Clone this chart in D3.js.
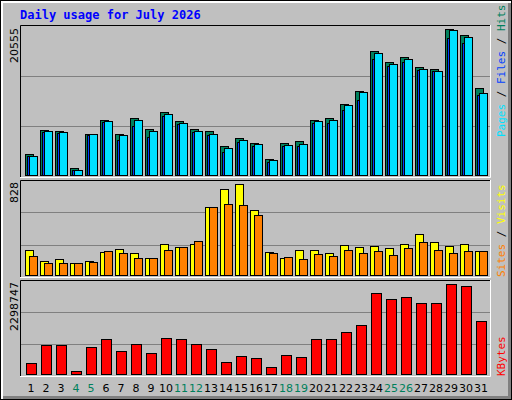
<!DOCTYPE html>
<html><head><meta charset="utf-8">
<script src="https://cdn.jsdelivr.net/npm/d3@7"></script>
<style>body{margin:0;background:#fff}svg{display:block}</style>
</head><body>
<script>
const days = d3.range(1, 32);
const weekend = [4,5,11,12,18,19,25,26];
const hits = [3016,6496,6357,1067,5939,7888,5939,8166,6635,9002,7749,6635,6357,4130,5382,4547,2320,4547,4826,7888,8166,10115,11925,17493,15962,16658,15266,14987,20555,19720,12342];
const files = [2738,6218,6080,835,5800,7610,5100,7000,5400,8400,7330,6218,5800,3400,4780,4130,1900,4130,4130,7470,7470,9280,10580,16400,15400,15960,14850,14700,19350,18650,11370];
const pages = [2738,6357,6218,882,5939,7749,5800,7888,6357,8723,7470,6357,5939,3851,4965,4408,2181,4269,4408,7749,7888,9976,11786,17214,15683,16379,14987,14709,20416,19442,11646];
const visitsY = [234,135,153,117,135,216,243,207,162,288,261,288,621,783,828,594,216,162,234,234,207,279,261,270,252,288,378,306,270,288,225];
const sitesO = [180,117,117,117,126,225,207,162,162,234,261,315,621,648,639,549,207,171,153,198,180,234,207,225,189,252,306,234,207,225,225];
const kbytes = [310000,763000,763000,109000,713000,914000,612000,789000,562000,940000,914000,789000,663000,336000,487000,436000,210000,512000,461000,914000,914000,1091000,1267000,2072000,1921000,1972000,1821000,1821000,2298747,2249000,1368000];
const maxLabels = ["20555","828","2298747"];

const W=512,H=400;
const svg=d3.select("body").append("svg").attr("width",W).attr("height",H);
svg.append("rect").attr("x",0).attr("y",0).attr("width",W).attr("height",H).attr("fill","#000");
svg.append("rect").attr("x",1).attr("y",1).attr("width",W-2).attr("height",H-2).attr("fill","#fff");
svg.append("rect").attr("x",3).attr("y",3).attr("width",W-4).attr("height",H-4).attr("fill","#808080");
svg.append("rect").attr("x",3).attr("y",3).attr("width",W-7).attr("height",H-7).attr("fill","#C0C0C0");

svg.append("text").attr("x",20).attr("y",19).attr("fill","#0000FF")
  .attr("font-family","DejaVu Sans Mono").attr("font-weight","bold").attr("font-size",12)
  .text("Daily usage for July 2026");

const x=d3.scaleBand().domain(days).range([20,485]).paddingInner(0);
const x0=d=>25+(d-1)*15;

function panel(top,bottom){
  svg.append("rect").attr("x",20).attr("y",top).attr("width",471).attr("height",bottom-top).attr("fill","#C0C0C0");
  const h=(bottom-top)/3;
  [1,2].forEach(k=>svg.append("line").attr("x1",21).attr("x2",490).attr("y1",Math.round(top+h*k)+0.5).attr("y2",Math.round(top+h*k)+0.5).attr("stroke","#808080"));
  svg.append("path").attr("d",`M20.5,${bottom}V${top+0.5}H491`).attr("stroke","#000").attr("fill","none");
  svg.append("path").attr("d",`M20,${bottom+0.5}H490.5V${top}`).attr("stroke","#fff").attr("fill","none");
}
panel(25,177); panel(180,277); panel(280,376);

function bars(data,y,dx,w,color){
  svg.append("g").selectAll("rect").data(data).join("rect")
    .attr("x",(d,i)=>x0(days[i])+dx+0.5).attr("width",w)
    .attr("y",d=>Math.round(y(d))+0.5).attr("height",d=>Math.max(0,y(0)-Math.round(y(d))-1))
    .attr("fill",color).attr("stroke","#000");
}
const y1=d3.scaleLinear().domain([0,20555]).range([176,29]);
bars(hits,y1,0,8,"#00805C");
bars(files,y1,2,8,"#0040FF");
bars(pages,y1,4,8,"#00E0FF");
const y2=d3.scaleLinear().domain([0,828]).range([276,184]);
bars(visitsY,y2,0,8,"#FFFF00");
bars(sitesO,y2,4,8,"#FF8000");
const y3=d3.scaleLinear().domain([0,2298747]).range([375,284]);
bars(kbytes,y3,1,10,"#FF0000");

const lf="DejaVu Sans";
[[28,maxLabels[0]],[182,maxLabels[1]],[282,maxLabels[2]]].forEach(([yy,t])=>{
  svg.append("text").attr("transform",`translate(18,${yy}) rotate(-90)`).attr("text-anchor","end")
   .attr("font-family",lf).attr("font-size",11).attr("fill","#000").text(t);
});
function rlab(ybot,parts){
  const t=svg.append("text").attr("transform",`translate(505,${ybot}) rotate(-90)`)
   .attr("font-family","DejaVu Sans Mono").attr("font-size",11);
  parts.forEach(([s,c])=>t.append("tspan").attr("fill",c).text(s));
}
rlab(137,[["Pages","#00E0FF"],[" / ","#000"],["Files","#0040FF"],[" / ","#000"],["Hits","#00805C"]]);
rlab(277,[["Sites","#FF8000"],[" / ","#000"],["Visits","#FFFF00"]]);
rlab(376,[["KBytes","#FF0000"]]);

svg.append("g").selectAll("text").data(days).join("text")
  .attr("x",d=>x0(d)+6).attr("y",392).attr("text-anchor","middle")
  .attr("font-family",lf).attr("font-size",11)
  .attr("fill",d=>weekend.includes(d)?"#00805C":"#000").text(d=>d);
</script>
</body></html>
